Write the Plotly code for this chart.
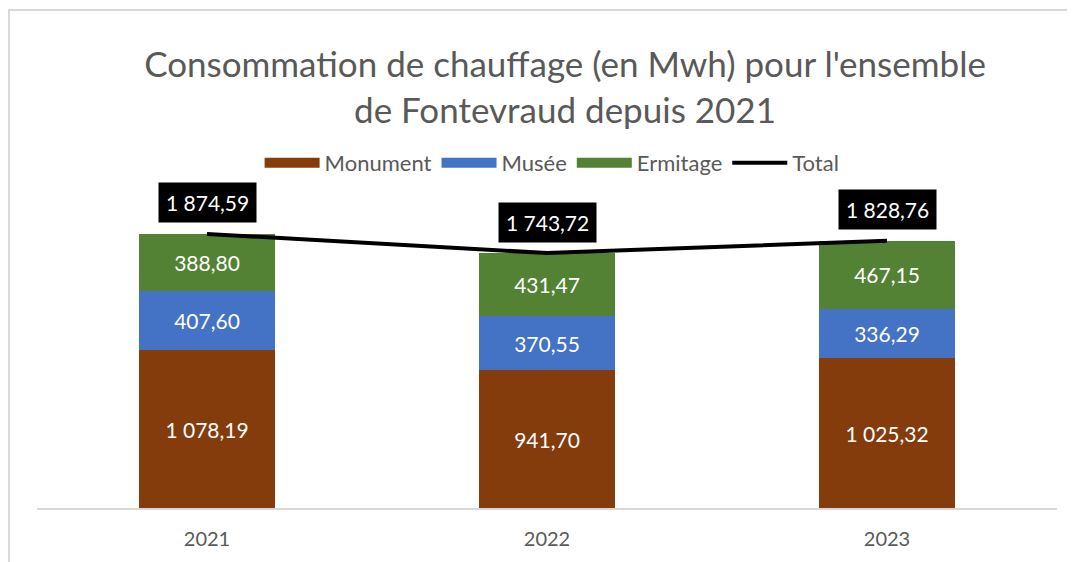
import plotly.graph_objects as go

years = ["2021", "2022", "2023"]
monument = [1078.19, 941.70, 1025.32]
musee = [407.60, 370.55, 336.29]
ermitage = [388.80, 431.47, 467.15]
total = [1874.59, 1743.72, 1828.76]


def fr(v):
    s = f"{v:,.2f}"
    return s.replace(",", " ").replace(".", ",")


FONT = "Lato"
GRAY = "#595959"

series = [("Monument", monument, "#843C0C"),
          ("Musée", musee, "#4472C4"),
          ("Ermitage", ermitage, "#548235")]

fig = go.Figure()
for name, vals, col in series:
    fig.add_trace(go.Bar(
        x=years, y=vals, name=name, marker=dict(color=col, line=dict(width=0)),
        width=0.4, text=[fr(v) for v in vals], textposition="inside",
        insidetextanchor="middle", textangle=0,
        textfont=dict(color="white", size=21, family=FONT),
        showlegend=False, legendgroup=name, hoverinfo="skip"))

# legend entries with wide rectangular swatches
for name, vals, col in series:
    fig.add_trace(go.Scatter(
        x=[years[0]], y=[None], name=name, mode="lines", legendgroup=name,
        line=dict(color=col, width=14), hoverinfo="skip"))

fig.add_trace(go.Scatter(
    x=years, y=total, name="Total", mode="lines",
    line=dict(color="black", width=4), hoverinfo="skip"))

for i, t in enumerate(total):
    fig.add_annotation(x=i, y=t, xref="x", yref="y", text=fr(t), showarrow=False,
                       yshift=31, bgcolor="black", borderpad=7,
                       font=dict(color="white", size=21, family=FONT))

fig.add_shape(type="rect", xref="paper", yref="paper",
              x0=(1 - 29) / 1020, x1=1.2, y0=-0.5, y1=(500 - 2) / 328,
              line=dict(color="#d9d9d9", width=2), layer="below")

W, H = 1067, 554
fig.update_layout(
    width=W, height=H,
    barmode="stack",
    margin=dict(l=29, r=W - 29 - 1020, t=172, b=H - 172 - 328),
    paper_bgcolor="white", plot_bgcolor="white",
    title=dict(text="Consommation de chauffage (en Mwh) pour l'ensemble<br>de Fontevraud depuis 2021",
               x=557 / W, xanchor="center", y=1 - 69 / H, yanchor="middle",
               font=dict(family=FONT, size=35, color=GRAY)),
    legend=dict(orientation="h", x=0.505, xanchor="center", y=(508 - 163) / 328,
                yanchor="middle", font=dict(family=FONT, size=22, color=GRAY),
                traceorder="normal", itemwidth=55),
    xaxis=dict(type="category", showline=True, linecolor="#d9d9d9", linewidth=1.5,
               ticks="", tickfont=dict(family=FONT, size=20, color=GRAY),
               ticklabelstandoff=12,
               showgrid=False, range=[-0.5, 2.5]),
    yaxis=dict(range=[0, 328 / 0.1462], visible=False, showgrid=False),
    showlegend=True,
)

fig.write_html("out.html")
